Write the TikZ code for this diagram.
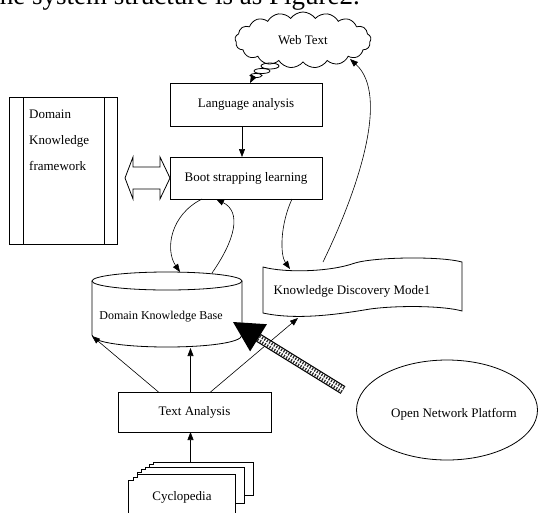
\documentclass[tikz,border=0pt]{standalone}
\usepackage{fontspec}
\setmainfont{Liberation Serif}
\usetikzlibrary{shapes.symbols,shapes.geometric,arrows.meta}
\newcommand\lblfont{\fontsize{13}{15}\selectfont}
\begin{document}
\begin{tikzpicture}[x=1pt,y=-1pt,
  ln/.style={line width=0.8pt},
  box/.style={draw, ln, minimum width=152pt, minimum height=43pt, inner sep=0pt, outer sep=0pt, font=\lblfont},
  arr/.style={-{Triangle[length=8pt,width=6pt]}, line width=0.6pt},
  page/.style={draw, ln, fill=white}]
\clip (0,0) rectangle (540,512);

% cut-off sentence at the top
\node[anchor=base east, inner sep=0pt, font=\fontsize{27}{29}\selectfont] (title) at (360,4) {The system structure is as Figure2.};

% boxes
\node[box] (lang) at (246,104.5) {Language analysis};
\node[box, minimum height=42pt] (boot) at (246,178) {Boot strapping learning};
\node[box, minimum width=153pt, minimum height=40pt] (ta) at (194.5,412) {Text Analysis};

% domain knowledge framework
\node[draw, ln, minimum width=108pt, minimum height=147pt, inner sep=0pt, outer sep=0pt] (dkf) at (63,170.5) {};
\draw[ln] ([xshift=14pt]dkf.north west) -- ([xshift=14pt]dkf.south west);
\draw[ln] ([xshift=-13pt]dkf.north east) -- ([xshift=-13pt]dkf.south east);
\node[anchor=north west, align=left, inner sep=0pt, font=\fontsize{13}{26}\selectfont] (dkftext) at (29,110) {Domain\\Knowledge\\framework};

% hollow double arrow
\draw[ln, fill=white] (125,178) -- (133,157) -- (133,167) -- (160,167) -- (160,157) -- (170,178)
  -- (160,199) -- (160,189) -- (133,189) -- (133,199) -- cycle;

% web text cloud
\node[cloud, draw, ln, cloud puffs=17, cloud puff arc=110, aspect=2.4, minimum width=136pt, minimum height=56pt, inner sep=0pt, font=\lblfont] (web) at (303,40) {Web Text};
\draw[ln] (270,66) ellipse [x radius=9, y radius=3];
\draw[ln] (262,71) ellipse [x radius=8, y radius=2.5];
\draw[ln] (256,75.5) ellipse [x radius=6, y radius=2];
\coordinate (tail) at (253,77.5);
\draw[arr] (tail) -- (lang.north -| 250,0);

% language -> boot
\draw[arr] (lang.south -| 242,0) -- (boot.north -| 242,0);

% domain knowledge base (cylinder)
\draw[ln, fill=white] (92,281) -- (92,335) .. controls (92,351) and (242,351) .. (242,335) -- (242,281);
\draw[ln] (167,281) ellipse [x radius=75, y radius=9];
\node[inner sep=0pt, font=\fontsize{12}{14}\selectfont] (dkb) at (161,317) {Domain Knowledge Base};
\coordinate (dkbtop1) at (180,272);
\coordinate (dkbtop2) at (212,273);
\coordinate (dkbbl) at (92,336);
\coordinate (dkbbot) at (190.5,348);
\coordinate (dkbright) at (233,322);

% knowledge discovery model (tape)
\draw[ln, fill=white] (263,267) .. controls (285,273) and (330,272) .. (355,263)
  .. controls (375,257) and (440,256) .. (462,262) -- (462,311)
  .. controls (445,306) and (400,305) .. (370,309)
  .. controls (335,315) and (295,320) .. (263,313) -- cycle;
\node[inner sep=0pt, font=\lblfont] (kdm) at (352,291) {Knowledge Discovery Mode1};
\coordinate (kdmtop1) at (290,269);
\coordinate (kdmtop2) at (323,262);
\coordinate (kdmbot) at (298,318);
\coordinate (webin) at (350,59);

% curved connectors
\draw[arr] ([xshift=-44pt]boot.south) .. controls (170,215) and (165,250) .. (dkbtop1);
\draw[arr] (dkbtop2) .. controls (235,240) and (242,212) .. ([xshift=-30pt]boot.south);
\draw[arr] ([xshift=46pt]boot.south) .. controls (280,225) and (280,255) .. (kdmtop1);
\draw[arr] (kdmtop2) .. controls (358,190) and (390,95) .. (webin);

% text analysis -> upward
\draw[arr] ([xshift=-36pt]ta.north) -- (dkbbl);
\draw[arr] ([xshift=-4pt]ta.north) -- (dkbbot);
\draw[arr] ([xshift=16pt]ta.north) -- (kdmbot);

% open network platform
\node[ellipse, draw, ln, minimum width=181pt, minimum height=100pt, inner sep=0pt, font=\lblfont] (onp) at (447,410) {};
\node[inner sep=0pt, font=\lblfont] (onptext) at (454,414) {Open Network Platform};
\coordinate (shaft) at (343,390);
\coordinate (headbase) at (258.5,337.8);
\draw[line width=9pt] (shaft) -- (headbase);
\draw[line width=6.6pt, white] (shaft) -- (headbase);
\draw[line width=6.6pt, black!85, dash pattern=on 1.2pt off 1.6pt] (shaft) -- (headbase);
\draw[line width=0.9pt, white] (shaft) -- (headbase);
\fill (dkbright) -- (266.9,324.2) -- (250.1,351.4) -- cycle;

% cyclopedia (multi-document)
\draw[page] (145,467) -- (149,467) -- (149,464) -- (153,464) -- (153,462) -- (253,462) -- (253,495) -- (145,495) -- cycle;
\draw[page] (137,472) -- (141,472) -- (141,469) -- (145,469) -- (145,467) -- (244,467) -- (244,503) -- (137,503) -- cycle;
\draw[page] (128,480) -- (133,480) -- (133,477) -- (137,477) -- (137,474) -- (235,474) -- (235,520) -- (128,520) -- cycle;
\node[inner sep=0pt, font=\lblfont] (cyc) at (182,497) {Cyclopedia};
\coordinate (cyctop) at (190.5,462);
\draw[arr] (cyctop) -- (ta.south -| cyctop);
\end{tikzpicture}
\end{document}
